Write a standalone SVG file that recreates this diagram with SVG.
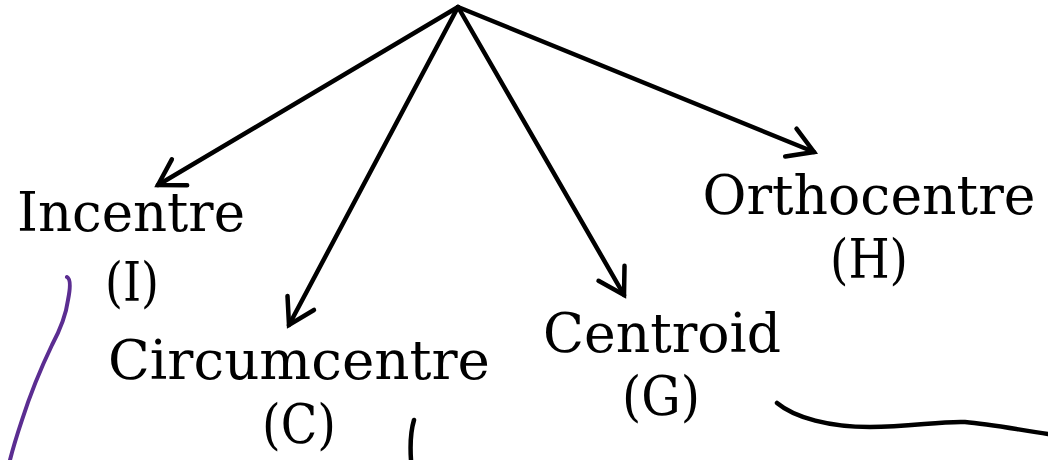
<svg xmlns="http://www.w3.org/2000/svg" width="1048" height="460" viewBox="0 0 1048 460">
  <style>
    .lbl { font-family: "DejaVu Serif", "Liberation Serif", serif; font-size: 54px; fill: #000; text-anchor: middle; }
    .conn { stroke: #000; stroke-width: 4.5; fill: none; stroke-linecap: round; }
    .ink { fill: none; stroke-linecap: round; stroke-linejoin: round; }
  </style>
  <defs>
    <marker id="arr" markerUnits="userSpaceOnUse" markerWidth="40" markerHeight="40" viewBox="-30 -20 34 40" refX="0" refY="0" orient="auto" overflow="visible">
      <path d="M-25,-15 L0,0 L-25,15" fill="none" stroke="#000" stroke-width="4.5" stroke-linecap="round" stroke-linejoin="miter"/>
    </marker>
  </defs>
  <rect width="1048" height="460" fill="#fff"/>
  <g id="connectors">
    <line class="conn" x1="458" y1="7" x2="158" y2="185" marker-end="url(#arr)"/>
    <line class="conn" x1="458" y1="7" x2="289" y2="325" marker-end="url(#arr)"/>
    <line class="conn" x1="458" y1="7" x2="624" y2="295" marker-end="url(#arr)"/>
    <line class="conn" x1="458" y1="7" x2="814" y2="152" marker-end="url(#arr)"/>
  </g>
  <g id="incentre">
    <text class="lbl" x="131" y="231" textLength="228" lengthAdjust="spacingAndGlyphs">Incentre</text>
    <text class="lbl" x="132" y="301" textLength="54" lengthAdjust="spacingAndGlyphs">(I)</text>
  </g>
  <g id="circumcentre">
    <text class="lbl" x="299" y="379" textLength="382" lengthAdjust="spacingAndGlyphs">Circumcentre</text>
    <text class="lbl" x="299" y="443" textLength="74" lengthAdjust="spacingAndGlyphs">(C)</text>
  </g>
  <g id="centroid">
    <text class="lbl" x="662" y="352" textLength="238" lengthAdjust="spacingAndGlyphs">Centroid</text>
    <text class="lbl" x="661" y="415" textLength="78" lengthAdjust="spacingAndGlyphs">(G)</text>
  </g>
  <g id="orthocentre">
    <text class="lbl" x="869" y="214" textLength="333" lengthAdjust="spacingAndGlyphs">Orthocentre</text>
    <text class="lbl" x="869" y="278" textLength="78" lengthAdjust="spacingAndGlyphs">(H)</text>
  </g>
  <g id="ink">
    <path class="ink" stroke="#5b2d91" stroke-width="4" d="M67,277 C71,279 70,290 68,300 C66,315 60,330 52,345 C40,370 30,395 22,420 C17,435 13,448 10,460"/>
    <path class="ink" stroke="#000" stroke-width="4.5" d="M414,420 C411,430 410,445 411,460"/>
    <path class="ink" stroke="#000" stroke-width="4.5" d="M777,403 C795,418 830,427 870,427 C910,427 940,421 965,422 C990,424 1020,430 1048,434"/>
  </g>
</svg>
